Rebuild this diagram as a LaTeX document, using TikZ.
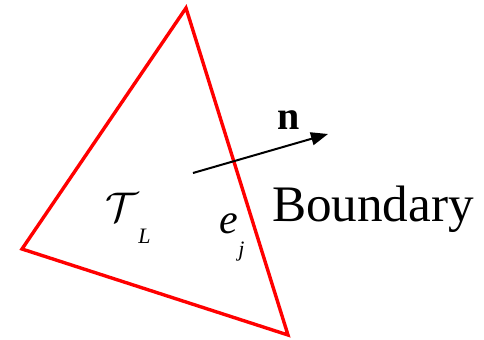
\documentclass[tikz,border=0pt]{standalone}
\usepackage{fontspec}
\setmainfont{Liberation Serif}
\usetikzlibrary{arrows.meta}

\newcommand{\lowsub}[1]{\raisebox{-0.55em}{\fontsize{11}{12}\selectfont\itshape #1}}

\begin{document}
\begin{tikzpicture}[x=0.5pt, y=-0.5pt,
      edge/.style={draw=red, line width=1.7pt, line join=miter},
      normal/.style={-{Triangle[length=8.5pt, width=6.5pt]}, line width=1pt},
      lbl/.style={inner sep=0pt, anchor=center}
    ]
    \useasboundingbox (0,0) rectangle (484,339);
    % triangle T_L
    \coordinate (top) at (186,8);
    \coordinate (left) at (22,249);
    \coordinate (bot) at (288,335);
    \draw[edge] (top) -- (left) -- (bot) -- cycle;

    % outward normal
    \coordinate (nstart) at (193,173);
    \coordinate (nend) at (328,134);
    \draw[normal] (nstart) -- (nend);

    \node[lbl, font=\fontsize{20}{24}\selectfont\bfseries] (n) at (289,120) {n};
    \node[lbl, font=\fontsize{25.6}{30}\selectfont] (bnd) at (373,209) {Boundary};
    \node[lbl, font=\fontsize{20}{24}\selectfont] (tl) at (128,218) {$\mathcal{T}$\lowsub{L}};
    \node[lbl, font=\fontsize{21}{24}\selectfont] (ej) at (232,237) {\textit{e}\lowsub{j}};
  \end{tikzpicture}
\end{document}
